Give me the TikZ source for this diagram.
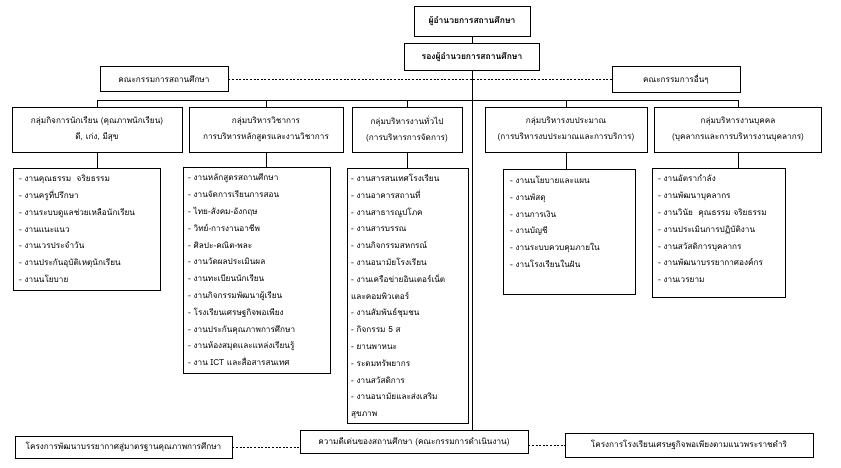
\documentclass[tikz,border=0pt]{standalone}
\usepackage{fontspec}
\setmainfont[Script=Thai]{Loma}
\begin{document}
\begin{tikzpicture}[x=1pt,y=-1pt,
  bx/.style={draw, line width=0.7pt, align=center, inner sep=1pt, font=\fontsize{8.2}{16}\selectfont},
  hd/.style={bx, font=\bfseries\fontsize{8.5}{14}\selectfont},
  lst/.style={draw, line width=0.7pt, anchor=north west, inner sep=0pt},
  lsttext/.style={anchor=north west, align=left, inner sep=0pt, font=\fontsize{8.2}{16.8}\selectfont},
  ln/.style={line width=0.7pt},
  dsh/.style={line width=0.7pt, dash pattern=on 2pt off 1.6pt}]
\useasboundingbox (0,0) rectangle (841,468);
% top
\node[hd, minimum width=116pt, minimum height=30pt] (dir) at (472,21) {ผู้อำนวยการสถานศึกษา};
\node[hd, minimum width=135pt, minimum height=27pt] (dep) at (472,56.5) {รองผู้อำนวยการสถานศึกษา};
\node[bx, minimum width=128pt, minimum height=25pt] (coml) at (164,79) {คณะกรรมการสถานศึกษา};
\node[bx, minimum width=128pt, minimum height=26pt] (comr) at (676,79) {คณะกรรมการอื่นๆ};
\draw[ln] (dir.south) -- (dep.north);
\draw[dsh] (coml.east) -- (comr.west);
% groups
\coordinate (busL) at (97,100);
\coordinate (busR) at (738,100);
\node[bx, minimum width=170pt, minimum height=45pt] (g1) at (97,129.5) {กลุ่มกิจการนักเรียน (คุณภาพนักเรียน)\\ดี, เก่ง, มีสุข};
\node[bx, minimum width=154pt, minimum height=45pt] (g2) at (266,129.5) {กลุ่มบริหารวิชาการ\\การบริหารหลักสูตรและงานวิชาการ};
\node[bx, minimum width=110pt, minimum height=45pt] (g3) at (407,129.5) {กลุ่มบริหารงานทั่วไป\\(การบริหารการจัดการ)};
\node[bx, minimum width=162pt, minimum height=45pt] (g4) at (566,129.5) {กลุ่มบริหารงบประมาณ\\(การบริหารงบประมาณและการบริการ)};
\node[bx, minimum width=167pt, minimum height=45pt] (g5) at (738,129.5) {กลุ่มบริหารงานบุคคล\\(บุคลากรและการบริหารงานบุคลากร)};
\draw[ln] (busL) -- (busR);
\foreach \g in {g1,g2,g3,g4,g5} {\draw[ln] (\g.north) -- (\g.north |- busL);}
% lists
\node[lst, minimum width=147pt, minimum height=122pt] (l1) at (13,168) {};
\node[lst, minimum width=147pt, minimum height=206pt] (l2) at (183,167) {};
\node[lst, minimum width=121pt, minimum height=255pt] (l3) at (347,168) {};
\node[lst, minimum width=132pt, minimum height=125pt] (l4) at (503,169) {};
\node[lst, minimum width=133pt, minimum height=129pt] (l5) at (652,168) {};
\foreach \i in {1,...,5} {\draw[ln] (g\i.south) -- (g\i.south |- l\i.north);}
\node[lsttext] (l1t) at ([xshift=6pt,yshift=-7pt]l1.north west) {- งานคุณธรรม\ \ จริยธรรม\\- งานครูที่ปรึกษา\\- งานระบบดูแลช่วยเหลือนักเรียน\\- งานแนะแนว\\- งานเวรประจำวัน\\- งานประกันอุบัติเหตุนักเรียน\\- งานนโยบาย};
\node[lsttext] (l2t) at ([xshift=5pt,yshift=-7pt]l2.north west) {- งานหลักสูตรสถานศึกษา\\- งานจัดการเรียนการสอน\\- ไทย-สังคม-อังกฤษ\\- วิทย์-การงานอาชีพ\\- ศิลปะ-คณิต-พละ\\- งานวัดผลประเมินผล\\- งานทะเบียนนักเรียน\\- งานกิจกรรมพัฒนาผู้เรียน\\- โรงเรียนเศรษฐกิจพอเพียง\\- งานประกันคุณภาพการศึกษา\\- งานห้องสมุดและแหล่งเรียนรู้\\- งาน ICT และสื่อสารสนเทศ};
\node[lsttext] (l3t) at ([xshift=4pt,yshift=-6pt]l3.north west) {- งานสารสนเทศโรงเรียน\\- งานอาคารสถานที่\\- งานสาธารณูปโภค\\- งานสารบรรณ\\- งานกิจกรรมสหกรณ์\\- งานอนามัยโรงเรียน\\- งานเครือข่ายอินเตอร์เน็ต\\และคอมพิวเตอร์\\- งานสัมพันธ์ชุมชน\\- กิจกรรม 5 ส\\- ยานพาหนะ\\- ระดมทรัพยากร\\- งานสวัสดิการ\\- งานอนามัยและส่งเสริม\\สุขภาพ};
\node[lsttext] (l4t) at ([xshift=7pt,yshift=-7pt]l4.north west) {- งานนโยบายและแผน\\- งานพัสดุ\\- งานการเงิน\\- งานบัญชี\\- งานระบบควบคุมภายใน\\- งานโรงเรียนในฝัน};
\node[lsttext] (l5t) at ([xshift=6pt,yshift=-7pt]l5.north west) {- งานอัตรากำลัง\\- งานพัฒนาบุคลากร\\- งานวินัย\ \ คุณธรรม จริยธรรม\\- งานประเมินการปฏิบัติงาน\\- งานสวัสดิการบุคลากร\\- งานพัฒนาบรรยากาศองค์กร\\- งานเวรยาม};
% bottom
\node[bx, minimum width=217pt, minimum height=22pt] (b1) at (123.5,447) {โครงการพัฒนาบรรยากาศสู่มาตรฐานคุณภาพการศึกษา};
\node[bx, minimum width=228pt, minimum height=23pt] (b2) at (414,441.5) {ความดีเด่นของสถานศึกษา (คณะกรรมการดำเนินงาน)};
\node[bx, minimum width=248pt, minimum height=24pt] (b3) at (689,445) {โครงการโรงเรียนเศรษฐกิจพอเพียงตามแนวพระราชดำริ};
\draw[ln] (dep.south) -- (dep.south |- b2.north);
\draw[dsh] (b1.east) -- (b1.east -| b2.west);
\draw[dsh] (b2.east |- b3.west) -- (b3.west);
\end{tikzpicture}
\end{document}
